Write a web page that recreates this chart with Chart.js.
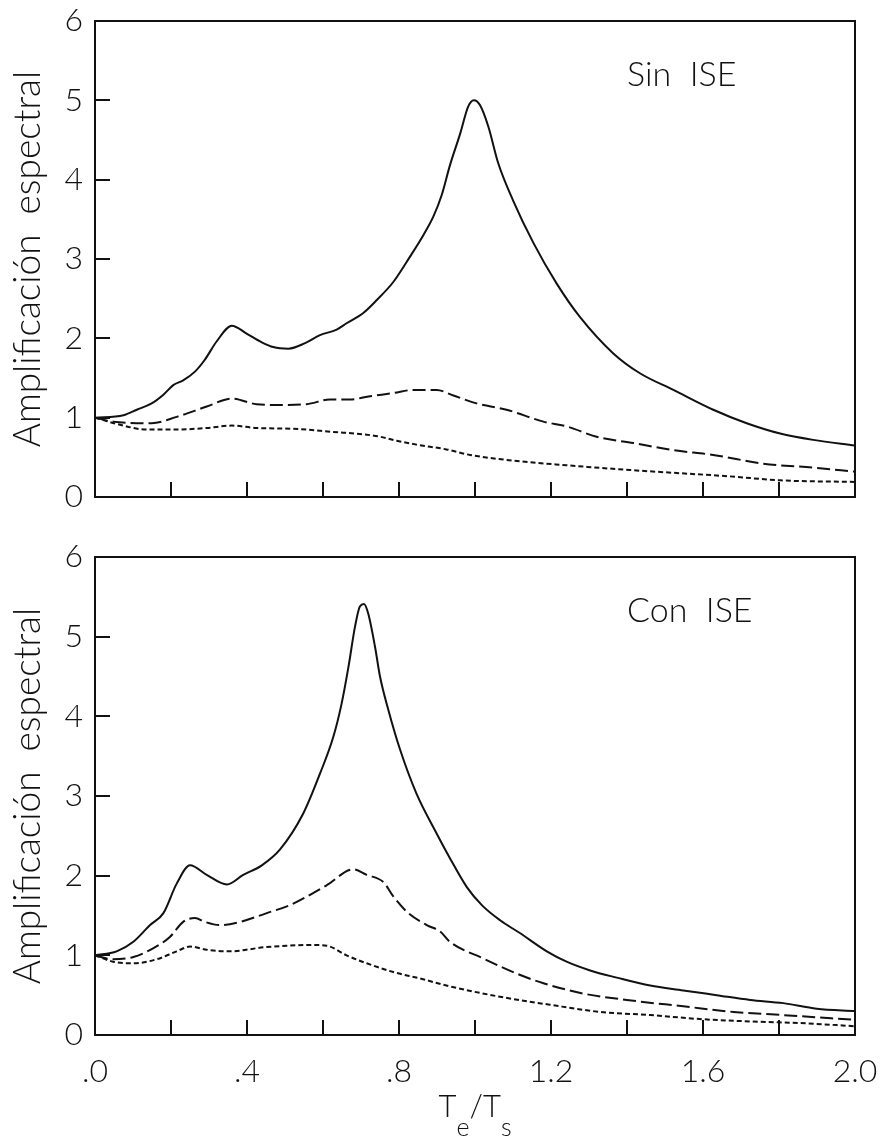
<!DOCTYPE html>
<html>
<head>
<meta charset="utf-8">
<script src="https://cdn.jsdelivr.net/npm/chart.js"></script>
<style>
  body { margin: 0; background: #fff; }
  .panel { position: absolute; left: 0; }
</style>
</head>
<body>
<div class="panel" style="top:0"><canvas id="top" width="884" height="540"></canvas></div>
<div class="panel" style="top:540px"><canvas id="bottom" width="884" height="602"></canvas></div>
<script>
// ticks
const xTicks = [0, 0.2, 0.4, 0.6, 0.8, 1.0, 1.2, 1.4, 1.6, 1.8, 2.0];
const xTickLabels = ['.0', '', '.4', '', '.8', '', '1.2', '', '1.6', '', '2.0'];
const yTicks = [0, 1, 2, 3, 4, 5, 6];

// Sin ISE (top panel)
const sinSolidX = [0, 0.075, 0.11, 0.149, 0.18, 0.206, 0.232, 0.263, 0.289, 0.32, 0.36, 0.399, 0.439, 0.469, 0.509, 0.553, 0.592, 0.636, 0.662, 0.706, 0.741, 0.785, 0.829, 0.864, 0.89, 0.912, 0.934, 0.961, 0.982, 0.997, 1.013, 1.035, 1.061, 1.1, 1.154, 1.215, 1.276, 1.364, 1.434, 1.522, 1.627, 1.715, 1.803, 1.89, 2.0];
const sinSolidY = [1.0, 1.03, 1.10, 1.18, 1.29, 1.41, 1.47, 1.58, 1.73, 1.96, 2.16, 2.06, 1.95, 1.89, 1.87, 1.94, 2.04, 2.11, 2.19, 2.32, 2.48, 2.71, 3.03, 3.30, 3.53, 3.80, 4.18, 4.58, 4.92, 5.00, 4.94, 4.67, 4.21, 3.74, 3.20, 2.69, 2.27, 1.81, 1.56, 1.35, 1.10, 0.93, 0.80, 0.72, 0.65];
const sinDashX = [0, 0.048, 0.149, 0.215, 0.294, 0.36, 0.425, 0.487, 0.557, 0.618, 0.671, 0.724, 0.785, 0.838, 0.899, 0.943, 1.004, 1.083, 1.18, 1.241, 1.32, 1.417, 1.522, 1.627, 1.759, 1.89, 2.0];
const sinDashY = [1.0, 0.95, 0.93, 1.01, 1.14, 1.24, 1.17, 1.16, 1.17, 1.23, 1.23, 1.27, 1.31, 1.35, 1.35, 1.28, 1.18, 1.10, 0.95, 0.89, 0.76, 0.68, 0.59, 0.53, 0.42, 0.37, 0.32];
const sinDotX = [0, 0.066, 0.136, 0.215, 0.294, 0.36, 0.425, 0.522, 0.627, 0.706, 0.75, 0.794, 0.846, 0.925, 0.987, 1.118, 1.241, 1.408, 1.539, 1.671, 1.803, 2.0];
const sinDotY = [1.0, 0.91, 0.85, 0.85, 0.87, 0.90, 0.87, 0.86, 0.82, 0.79, 0.76, 0.71, 0.66, 0.60, 0.53, 0.45, 0.40, 0.34, 0.30, 0.26, 0.21, 0.19];

// Con ISE (bottom panel)
const conSolidX = [0, 0.057, 0.101, 0.145, 0.18, 0.215, 0.25, 0.294, 0.347, 0.39, 0.439, 0.487, 0.548, 0.592, 0.627, 0.649, 0.667, 0.684, 0.697, 0.708, 0.719, 0.737, 0.75, 0.772, 0.803, 0.846, 0.899, 0.934, 0.978, 1.018, 1.066, 1.118, 1.189, 1.241, 1.303, 1.373, 1.461, 1.548, 1.636, 1.724, 1.811, 1.899, 2.0];
const conSolidY = [1.0, 1.05, 1.17, 1.38, 1.53, 1.90, 2.13, 2.01, 1.89, 2.01, 2.13, 2.33, 2.78, 3.28, 3.74, 4.16, 4.62, 5.12, 5.38, 5.41, 5.29, 4.87, 4.50, 4.08, 3.58, 3.03, 2.53, 2.22, 1.86, 1.63, 1.44, 1.28, 1.05, 0.92, 0.81, 0.72, 0.62, 0.56, 0.50, 0.44, 0.40, 0.33, 0.30];
const conDashX = [0, 0.048, 0.101, 0.154, 0.197, 0.232, 0.263, 0.289, 0.329, 0.382, 0.452, 0.513, 0.566, 0.61, 0.68, 0.715, 0.759, 0.785, 0.82, 0.873, 0.908, 0.934, 1.022, 1.11, 1.18, 1.285, 1.399, 1.548, 1.68, 1.811, 2.0];
const conDashY = [1.0, 0.95, 0.98, 1.09, 1.23, 1.42, 1.47, 1.42, 1.38, 1.42, 1.53, 1.63, 1.76, 1.88, 2.08, 2.01, 1.92, 1.74, 1.55, 1.38, 1.30, 1.17, 0.96, 0.77, 0.65, 0.52, 0.44, 0.36, 0.29, 0.25, 0.19];
const conDotX = [0, 0.048, 0.101, 0.162, 0.215, 0.25, 0.294, 0.355, 0.443, 0.504, 0.566, 0.61, 0.662, 0.715, 0.785, 0.855, 0.934, 1.066, 1.197, 1.329, 1.461, 1.592, 1.724, 1.855, 2.0];
const conDotY = [1.0, 0.92, 0.90, 0.95, 1.05, 1.11, 1.07, 1.05, 1.10, 1.12, 1.13, 1.12, 1.00, 0.90, 0.79, 0.71, 0.61, 0.48, 0.38, 0.29, 0.25, 0.20, 0.17, 0.15, 0.11];

const FONT = 'Lato, "DejaVu Sans", sans-serif';
const INK = '#111';
Chart.defaults.color = INK;
Chart.defaults.font.family = FONT;

function pts(xs, ys) {
    return xs.map((x, i) => ({ x: x, y: ys[i] }));
}

function line(xs, ys, dash) {
    return {
        data: pts(xs, ys),
        borderColor: INK,
        borderWidth: 2,
        borderDash: dash,
        pointRadius: 0,
        fill: false,
        cubicInterpolationMode: 'monotone'
    };
}

// frame, inward ticks and the panel label
const framePlugin = {
    id: 'frame',
    afterDraw(chart, args, opts) {
        const ctx = chart.ctx;
        const a = chart.chartArea;
        const xs = chart.scales.x, ys = chart.scales.y;
        ctx.save();
        ctx.strokeStyle = INK;
        ctx.lineWidth = 2;
        ctx.strokeRect(a.left, a.top, a.right - a.left, a.bottom - a.top);
        ctx.beginPath();
        xTicks.slice(1, -1).forEach(v => {
            const px = Math.round(xs.getPixelForValue(v));
            ctx.moveTo(px, a.bottom);
            ctx.lineTo(px, a.bottom - 15);
        });
        yTicks.slice(1, -1).forEach(v => {
            const py = Math.round(ys.getPixelForValue(v));
            ctx.moveTo(a.left, py);
            ctx.lineTo(a.left + 15, py);
        });
        ctx.stroke();

        ctx.fillStyle = INK;
        ctx.font = '300 34px ' + FONT;
        ctx.textBaseline = 'alphabetic';
        ctx.textAlign = 'left';
        ctx.fillText(opts.label, xs.getPixelForValue(1.40), ys.getPixelForValue(5.18));

        if (opts.xTitle) {
            // T_e / T_s with subscripts
            const big = '300 31px ' + FONT, small = '300 25px ' + FONT;
            const parts = [['T', big, 0], ['e', small, 1], ['/', big, 0], ['T', big, 0], ['s', small, 1]];
            let total = 0;
            parts.forEach(p => { ctx.font = p[1]; p.push(ctx.measureText(p[0]).width); total += p[3]; });
            let cx = (a.left + a.right) / 2 - total / 2;
            const base = a.bottom + 82;
            parts.forEach(p => {
                ctx.font = p[1];
                ctx.fillText(p[0], cx, base + (p[2] ? 19 : 0));
                cx += p[3];
            });
        }
        ctx.restore();
    }
};

function makePanel(id, datasets, label, showX) {
    return new Chart(document.getElementById(id), {
        type: 'line',
        data: { datasets: datasets },
        options: {
            responsive: false,
            animation: false,
            devicePixelRatio: 1,
            layout: { padding: { top: showX ? 17 : 21, right: 29, left: 0, bottom: 0 } },
            plugins: {
                legend: { display: false },
                tooltip: { enabled: false },
                frame: { label: label, xTitle: showX }
            },
            scales: {
                x: {
                    type: 'linear',
                    min: 0,
                    max: 2,
                    grid: { display: false, drawTicks: false },
                    border: { display: false },
                    afterBuildTicks: s => { s.ticks = xTicks.map(v => ({ value: v })); },
                    ticks: {
                        display: showX,
                        autoSkip: false,
                        maxRotation: 0,
                        padding: 17,
                        font: { size: 32, weight: 300 },
                        callback: (v, i) => xTickLabels[i]
                    },
                    afterFit: s => {
                        s.height = showX ? 107 : 43;
                        s.paddingLeft = 0;
                        s.paddingRight = 0;
                    }
                },
                y: {
                    min: 0,
                    max: 6,
                    grid: { display: false, drawTicks: false },
                    border: { display: false },
                    afterBuildTicks: s => { s.ticks = yTicks.map(v => ({ value: v })); },
                    ticks: {
                        padding: 12,
                        font: { size: 32, weight: 300 },
                        callback: v => String(v)
                    },
                    title: {
                        display: true,
                        text: 'Amplificación  espectral',
                        font: { size: 37, weight: 300 },
                        padding: { top: 6, bottom: 0 }
                    },
                    afterFit: s => {
                        s.width = 95;
                        s.paddingTop = 0;
                        s.paddingBottom = 0;
                    }
                }
            }
        },
        plugins: [framePlugin]
    });
}

makePanel('top', [
    line(sinSolidX, sinSolidY, []),
    line(sinDashX, sinDashY, [13, 5]),
    line(sinDotX, sinDotY, [5, 3])
], 'Sin  ISE', false);

makePanel('bottom', [
    line(conSolidX, conSolidY, []),
    line(conDashX, conDashY, [13, 5]),
    line(conDotX, conDotY, [5, 3])
], 'Con  ISE', true);
</script>
</body>
</html>
